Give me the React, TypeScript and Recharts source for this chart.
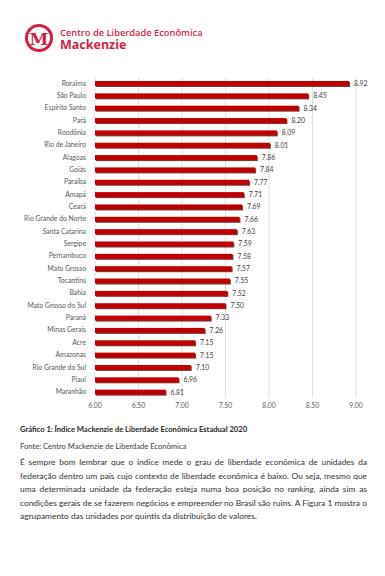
import { Bar, BarChart, CartesianGrid, LabelList, XAxis, YAxis } from "recharts";

const states = [
  "Roraima",
  "São Paulo",
  "Espírito Santo",
  "Pará",
  "Rondônia",
  "Rio de Janeiro",
  "Alagoas",
  "Goiás",
  "Paraíba",
  "Amapá",
  "Ceará",
  "Rio Grande do Norte",
  "Santa Catarina",
  "Sergipe",
  "Pernambuco",
  "Mato Grosso",
  "Tocantins",
  "Bahia",
  "Mato Grosso do Sul",
  "Paraná",
  "Minas Gerais",
  "Acre",
  "Amazonas",
  "Rio Grande do Sul",
  "Piauí",
  "Maranhão",
];

const scores = [
  8.92, 8.45, 8.34, 8.2, 8.09, 8.01, 7.86, 7.84, 7.77, 7.71, 7.69, 7.66, 7.63, 7.59, 7.58,
  7.57, 7.55, 7.52, 7.5, 7.33, 7.26, 7.15, 7.15, 7.1, 6.96, 6.81,
];

const xTicks = [6, 6.5, 7, 7.5, 8, 8.5, 9];

const RED = "#c00000";
const BRAND = "#d21f47";
const GREY = "#595959";

// bar with a small dark drop shadow, like the Excel original
function ShadowBar(props: any) {
  const { x, y, width, height } = props;
  if (!width || width <= 0) return null;
  return (
    <g>
      <rect x={x + 1} y={y + 1} width={width} height={height} fill="#4a0000" opacity={0.75} />
      <rect x={x} y={y} width={width} height={height} fill={RED} />
    </g>
  );
}

// plain one-line category label (recharts would wrap the long names)
function StateTick(props: any) {
  const { x, y, payload } = props;
  return (
    <text x={x} y={y} dy="0.35em" textAnchor="end" fontSize={6.8} fill={GREY} fontFamily="Lato">
      {payload.value}
    </text>
  );
}

export default function App() {
  const data = states.map((name, i) => ({ name, value: scores[i] }));

  return (
    <div
      style={{
        position: "absolute",
        left: 0,
        top: 0,
        width: 385,
        height: 576,
        background: "#fff",
        fontFamily: "Lato, sans-serif",
      }}
    >
      {/* header logo */}
      <svg width={220} height={60} style={{ position: "absolute", left: 0, top: 0 }}>
        <circle cx={39} cy={38} r={12.5} fill="none" stroke={BRAND} strokeWidth={3} />
        <text
          x={39}
          y={44.5}
          textAnchor="middle"
          fontFamily="'DejaVu Serif', serif"
          fontWeight="bold"
          fontSize={17}
          fill={BRAND}
        >
          M
        </text>
        <text x={60} y={36} fontFamily="'Open Sans', sans-serif" fontWeight={600} fontSize={9.3} fill={BRAND}>
          Centro de Liberdade Econômica
        </text>
        <text x={60} y={49} fontFamily="'Open Sans', sans-serif" fontWeight={700} fontSize={12.5} fill={BRAND}>
          Mackenzie
        </text>
      </svg>

      <div style={{ position: "absolute", left: 0, top: 0 }}>
        <BarChart
          width={385}
          height={417}
          data={data}
          layout="vertical"
          margin={{ top: 77, right: 29, bottom: 0, left: 0 }}
          barCategoryGap={0}
        >
          <CartesianGrid horizontal={false} stroke="#d9d9d9" strokeWidth={0.8} />
          <XAxis
            type="number"
            domain={[6, 9]}
            ticks={xTicks}
            tickFormatter={(v: number) => v.toFixed(2)}
            tick={{ fontSize: 6.8, fill: GREY, fontFamily: "Lato" }}
            tickLine={false}
            axisLine={false}
            tickSize={3}
            height={19}
            allowDataOverflow
          />
          <YAxis
            type="category"
            dataKey="name"
            width={95}
            interval={0}
            tick={<StateTick />}
            tickLine={false}
            axisLine={false}
            tickSize={7}
          />
          <Bar dataKey="value" barSize={5} shape={ShadowBar} isAnimationActive={false}>
            <LabelList
              dataKey="value"
              position="right"
              offset={5}
              formatter={(v: any) => Number(v).toFixed(2)}
              style={{ fontSize: 6.8, fill: "#404040", fontFamily: "Lato" }}
            />
          </Bar>
        </BarChart>
      </div>

      <div
        style={{
          position: "absolute",
          left: 20,
          top: 424,
          fontSize: 7.6,
          fontWeight: 700,
          color: "#262626",
        }}
      >
        Gráfico 1: Índice Mackenzie de Liberdade Econômica Estadual 2020
      </div>
      <div style={{ position: "absolute", left: 20, top: 441, fontSize: 7.6, color: "#404040" }}>
        Fonte: Centro Mackenzie de Liberdade Econômica
      </div>
      <div
        style={{
          position: "absolute",
          left: 20,
          top: 456,
          width: 347,
          fontSize: 8.4,
          lineHeight: "13.6px",
          textAlign: "justify",
          color: "#333",
        }}
      >
        É sempre bom lembrar que o índice mede o grau de liberdade econômica de unidades da federação
        dentro um país cujo contexto de liberdade econômica é baixo. Ou seja, mesmo que uma determinada
        unidade da federação esteja numa boa posição no <i>ranking</i>, ainda sim as condições gerais de
        se fazerem negócios e empreender no Brasil são ruins. A Figura 1 mostra o agrupamento das unidades
        por quintis da distribuição de valores.
      </div>
    </div>
  );
}
